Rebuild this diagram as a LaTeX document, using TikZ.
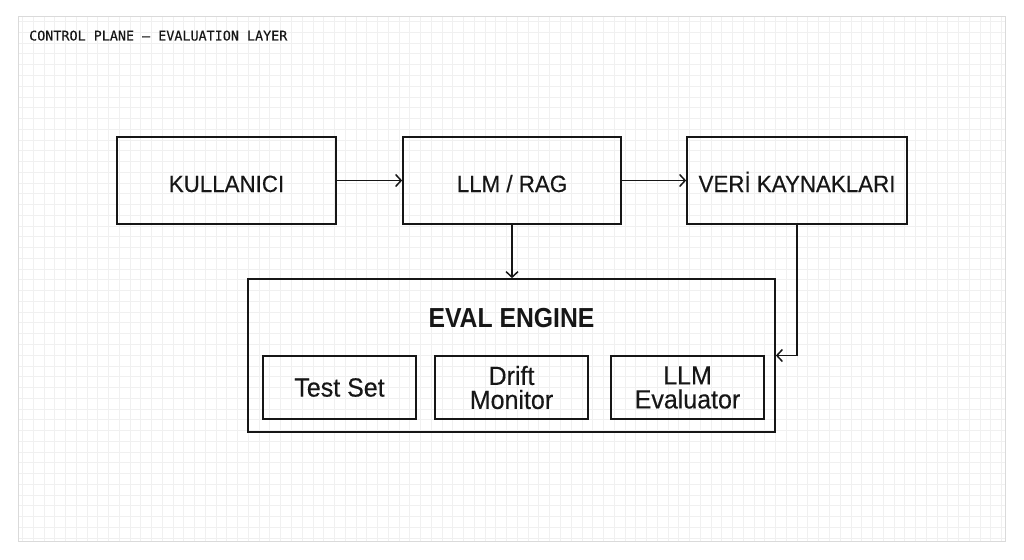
\documentclass[tikz,border=0pt]{standalone}
\usepackage{fontspec}
\usetikzlibrary{arrows.meta}
\newfontfamily\boxfont[FakeStretch=0.95,FakeBold=0.35]{Liberation Sans}
\newfontfamily\evalfont[FakeStretch=0.9]{Liberation Sans}
\newfontfamily\titlefont[FakeBold=0.2]{DejaVu Sans Mono}
\definecolor{ink}{HTML}{161616}
\definecolor{gridc}{HTML}{F0F0F0}
\definecolor{framec}{HTML}{DADADA}
\begin{document}
\begin{tikzpicture}[x=1pt,y=-1pt,
  gridline/.style={draw=gridc,line width=0.6pt},
  topbox/.style={draw=ink,line width=1.7pt,minimum height=87pt,text=ink,
    font=\boxfont\fontsize{23.5}{24}\selectfont,text height=23pt,text depth=0pt,inner sep=0pt},
  innerbox/.style={draw=ink,line width=1.6pt,minimum width=153pt,minimum height=63pt,
    text=ink,font=\boxfont\fontsize{26.3}{24}\selectfont,align=center,inner sep=0pt},
  enginebox/.style={draw=ink,line width=1.7pt,minimum width=527pt,minimum height=153pt,inner sep=0pt},
  conn/.style={draw=ink,line width=1.5pt,-{Straight Barb[length=5.5pt,width=12pt]}}
]
\useasboundingbox (0,0) rectangle (1024,559);
\fill[white] (0,0) rectangle (1024,559);
% sheet and grid
\fill[white] (18,17) rectangle (1005,541);
\foreach \i in {0,...,91} {\draw[gridline] ({22.3+\i*10.76},17) -- ({22.3+\i*10.76},541);}
\foreach \j in {0,...,48} {\draw[gridline] (18,{21.5+\j*10.76}) -- (1005,{21.5+\j*10.76});}
\draw[framec,line width=1pt] (18,17) rectangle (1005,541);

% title
\node[anchor=base west,font=\titlefont\fontsize{13.4}{14}\selectfont,text=ink,inner sep=0pt]
  (title) at (29,40.5) {CONTROL PLANE – EVALUATION LAYER};

% top row
\node[topbox,minimum width=219pt] (kul) at (226.5,180.5) {KULLANICI};
\node[topbox,minimum width=218pt] (llm) at (512,180.5) {LLM / RAG};
\node[topbox,minimum width=220pt] (veri) at (797,180.5) {VERİ KAYNAKLARI};

% eval engine
\node[enginebox] (eval) at (511.5,355.5) {};
\node[font=\evalfont\bfseries\fontsize{27.5}{28}\selectfont,text=ink,inner sep=0pt]
  (evt) at (511.5,318) {EVAL ENGINE};
\node[innerbox] (test) at (339.5,387.5) {Test Set};
\node[innerbox] (drift) at (511.5,387.5) {Drift\\Monitor};
\node[innerbox] (leval) at (687.5,387.5) {LLM\\Evaluator};

% connectors
\draw[conn] (kul.east) -- (llm.west);
\draw[conn] (llm.east) -- (veri.west);
\draw[conn] (llm.south) -- (llm.south |- eval.north);
\draw[conn] (veri.south) |- (eval.east);
\end{tikzpicture}
\end{document}
